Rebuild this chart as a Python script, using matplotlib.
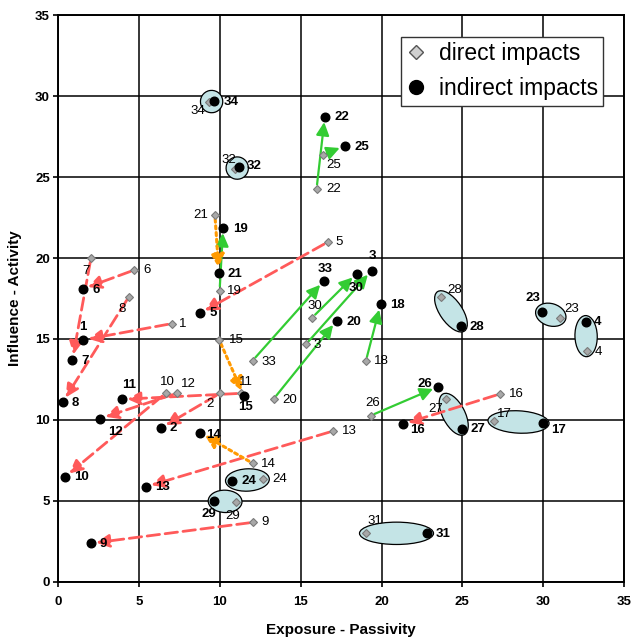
import matplotlib
matplotlib.use('Agg')
import matplotlib.pyplot as plt
from matplotlib.patches import Ellipse, FancyArrowPatch
from matplotlib.lines import Line2D
import numpy as np

plt.rcParams['font.family'] = ['Liberation Sans', 'DejaVu Sans']

# ---------------- data ----------------
ids = list(range(1, 35))
direct_x = [7.03, 10.00, 15.32, 32.68, 16.66, 4.70, 2.02, 4.37, 12.06, 6.64,
            11.30, 7.32, 17.00, 12.02, 9.96, 27.32, 26.96, 19.03, 9.98, 13.32,
            9.69, 15.98, 31.03, 12.68, 16.35, 19.32, 23.98, 23.67, 10.99, 15.71,
            19.01, 10.95, 12.02, 9.32]
direct_y = [15.95, 11.64, 14.67, 14.28, 20.98, 19.26, 19.99, 17.61, 3.67, 11.64,
            11.64, 11.64, 9.31, 7.32, 14.94, 11.60, 9.95, 13.64, 17.99, 11.29,
            22.66, 24.29, 16.32, 6.33, 26.37, 10.26, 11.27, 17.61, 4.94, 16.32,
            2.99, 25.49, 13.66, 29.63]
indirect_x = [1.53, 6.35, 19.38, 32.63, 8.76, 1.51, 0.87, 0.27, 2.00, 0.41,
              3.92, 2.58, 5.42, 8.76, 11.48, 21.30, 29.99, 19.94, 10.20, 17.22,
              9.94, 16.49, 29.91, 10.72, 17.73, 23.50, 24.95, 24.92, 9.65, 18.45,
              22.84, 11.19, 16.43, 9.65]
indirect_y = [14.94, 9.50, 19.22, 16.07, 16.59, 18.09, 13.70, 11.09, 2.37, 6.47,
              11.27, 10.08, 5.87, 9.21, 11.48, 9.73, 9.79, 17.14, 21.88, 16.13,
              19.06, 28.74, 16.67, 6.24, 26.93, 12.05, 9.42, 15.80, 4.99, 19.04,
              2.99, 25.63, 18.60, 29.71]
# how direct and indirect positions are linked
link = ['red', 'red', 'green', 'group', 'red', 'red', 'red', 'red', 'red', 'red',
        'red', 'red', 'red', 'orange', 'orange', 'red', 'group', 'green', 'green', 'green',
        'orange', 'green', 'group', 'group', 'green', 'green', 'group', 'group', 'group', 'green',
        'group', 'group', 'green', 'group']
x_ticks = [0, 5, 10, 15, 20, 25, 30, 35]
y_ticks = [0, 5, 10, 15, 20, 25, 30, 35]
legend_labels = ['direct impacts', 'indirect impacts']

# ---------------- label offsets (pixels: right, down) ----------------
direct_off = {1: (11, 0), 2: (-10, 11), 3: (11, 1), 4: (12, 1), 5: (12, 0), 6: (13, 0),
              7: (-5, 13), 8: (-7, 12), 9: (12, 0), 10: (2, -11), 11: (5, -11), 12: (12, -9),
              13: (16, 0), 14: (16, 1), 15: (17, 0), 16: (17, 0), 17: (10, -7), 18: (16, 0),
              19: (15, 0), 20: (16, 1), 21: (-14, 0), 22: (17, 0), 23: (12, -9), 24: (16, 0),
              25: (11, 10), 26: (2, -13), 27: (-10, 10), 28: (14, -7), 29: (-3, 14),
              30: (3, -12), 31: (9, -12), 32: (-6, -9), 33: (16, 1), 34: (-11, 9)}
indirect_off = {1: (0, -13), 2: (12, 0), 3: (1, -15), 4: (12, 0), 5: (13, 0), 6: (13, 1),
                7: (13, 1), 8: (13, 1), 9: (13, 1), 10: (17, 0), 11: (7, -14), 12: (15, 13),
                13: (17, 0), 14: (14, 2), 15: (2, 11), 16: (15, 6), 17: (16, 7), 18: (17, 1),
                19: (17, 1), 20: (17, 1), 21: (16, 1), 22: (17, 0), 23: (-9, -14), 24: (17, 0),
                25: (17, 1), 26: (-13, -3), 27: (16, 0), 28: (16, 1), 29: (-5, 13), 30: (0, 14),
                31: (16, 1), 32: (15, -1), 33: (1, -12), 34: (17, 1)}

W, H = 632, 638
fig = plt.figure(figsize=(W / 100, H / 100), dpi=100)
x0, x1, y0, y1 = 58.3, 624.0, 15.3, 581.7
ax = fig.add_axes([x0 / W, 1 - y1 / H, (x1 - x0) / W, (y1 - y0) / H])
ax.set_xlim(0, 35)
ax.set_ylim(0, 35)
ax.set_xticks(x_ticks)
ax.set_yticks(y_ticks)
ax.grid(True, color='black', lw=1.1)
ax.set_axisbelow(True)
for s in ax.spines.values():
    s.set_linewidth(1.4)
ax.tick_params(direction='out', length=3.6, width=1.2, labelsize=9.5)
ax.tick_params(axis='x', pad=7)
ax.tick_params(axis='y', pad=2.5)
for lab in ax.get_xticklabels() + ax.get_yticklabels():
    lab.set_fontweight('bold')

styles = {
    'red': dict(color='#FF5A5A', lw=2.0, ls=(0, (4.5, 2))),
    'green': dict(color='#33CC33', lw=1.6, ls='-'),
    'orange': dict(color='#FF9900', lw=2.2, ls=(0, (1, 1.2))),
}

for i in range(len(ids)):
    dx, dy, ix, iy = direct_x[i], direct_y[i], indirect_x[i], indirect_y[i]
    kind = link[i]
    if kind == 'group':
        cx, cy = (dx + ix) / 2, (dy + iy) / 2
        dist = np.hypot(ix - dx, iy - dy)
        ang = np.degrees(np.arctan2(iy - dy, ix - dx))
        e = Ellipse((cx, cy), width=max(dist + 0.75, 1.38), height=1.38, angle=ang,
                    facecolor='#C4E4E6', edgecolor='black', lw=0.9, zorder=2)
        ax.add_patch(e)
    else:
        st = styles[kind]
        arr = FancyArrowPatch((dx, dy), (ix, iy),
                              arrowstyle='-|>,head_length=0.6,head_width=0.3',
                              mutation_scale=13, color=st['color'], lw=st['lw'],
                              linestyle=st['ls'], shrinkA=3, shrinkB=4, zorder=3)
        ax.add_patch(arr)

ax.plot(direct_x, direct_y, ls='none', marker='D', ms=4.5, mfc='#A8A8A8',
        mec='#7A7A7A', mew=0.8, zorder=4)
ax.plot(indirect_x, indirect_y, ls='none', marker='o', ms=6.2, mfc='black',
        mec='black', zorder=5)

for i, n in enumerate(ids):
    ox, oy = direct_off[n]
    ax.annotate(str(n), (direct_x[i], direct_y[i]), xytext=(ox, -oy),
                textcoords='offset pixels', ha='center', va='center',
                fontsize=9.5, zorder=6)
    ox, oy = indirect_off[n]
    ax.annotate(str(n), (indirect_x[i], indirect_y[i]), xytext=(ox, -oy),
                textcoords='offset pixels', ha='center', va='center',
                fontsize=9.5, fontweight='bold', zorder=6)

handles = [Line2D([], [], ls='none', marker='D', ms=7.5, mfc='#D0D0D0', mec='#555555', mew=1.0),
           Line2D([], [], ls='none', marker='o', ms=10, mfc='black', mec='black')]
leg = ax.legend(handles, legend_labels, loc='upper left',
                bbox_to_anchor=(400.7 / W, 1 - 36.7 / H), bbox_transform=fig.transFigure,
                fontsize=16.5, frameon=True, fancybox=False, borderpad=0.25,
                handlelength=0.8, handletextpad=0.6, labelspacing=0.5, borderaxespad=0)
leg.get_frame().set_edgecolor('#333333')
leg.get_frame().set_linewidth(1.0)
leg.get_frame().set_alpha(1)
leg.set_zorder(10)

fig.text(341 / W, 1 - 630 / H, 'Exposure - Passivity', ha='center', va='center',
         fontsize=11, fontweight='bold')
fig.text(15 / W, 1 - 298 / H, 'Influence - Activity', ha='center', va='center',
         fontsize=11, fontweight='bold', rotation=90)

fig.savefig('out.png', dpi=100)
